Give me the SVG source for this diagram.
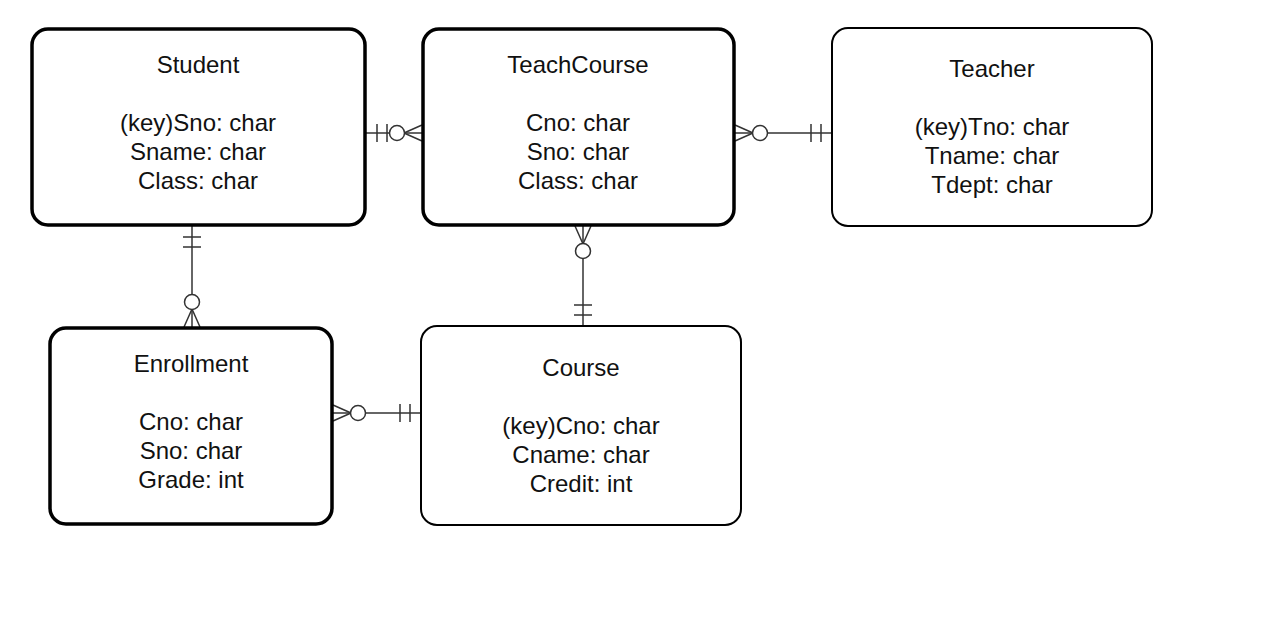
<svg xmlns="http://www.w3.org/2000/svg" width="1264" height="631" viewBox="0 0 1264 631">
<style>
.box{fill:#fff;stroke:#000}
.thick{stroke-width:3.5}
.thin{stroke-width:2}
.t{font-family:"Liberation Sans",Arial,sans-serif;font-size:24px;fill:#111;text-anchor:middle}
.c{stroke:#333;stroke-width:1.5;fill:none}
</style>
<defs>
<marker id="one" markerUnits="userSpaceOnUse" orient="auto" markerWidth="60" markerHeight="60" refX="0" refY="0" viewBox="-30 -30 60 60" overflow="visible">
<path d="M11,-9 V9 M21,-9 V9" stroke="#333" stroke-width="1.5" fill="none"/>
</marker>
<marker id="zeroMany" markerUnits="userSpaceOnUse" orient="auto" markerWidth="60" markerHeight="60" refX="0" refY="0" viewBox="-30 -30 60 60" overflow="visible">
<path d="M-18,0 L0,-8 M-18,0 L0,8" stroke="#333" stroke-width="1.5" fill="none"/>
<circle cx="-25" cy="0" r="7.5" fill="#fff" stroke="#333" stroke-width="1.5"/>
</marker>
</defs>
<rect width="1264" height="631" fill="#fff"/>
<g id="connectors">
<line class="c" x1="366" y1="133" x2="422" y2="133" marker-start="url(#one)" marker-end="url(#zeroMany)"/>
<line class="c" x1="832" y1="133" x2="735" y2="133" marker-start="url(#one)" marker-end="url(#zeroMany)"/>
<line class="c" x1="192" y1="226" x2="192" y2="327" marker-start="url(#one)" marker-end="url(#zeroMany)"/>
<line class="c" x1="583" y1="326" x2="583" y2="226" marker-start="url(#one)" marker-end="url(#zeroMany)"/>
<line class="c" x1="421" y1="413" x2="333" y2="413" marker-start="url(#one)" marker-end="url(#zeroMany)"/>
</g>
<g id="student">
<rect class="box thick" x="32" y="29" width="333" height="196" rx="16"/>
<text class="t" x="198" y="73">Student</text>
<text class="t" x="198" y="131">(key)Sno: char</text>
<text class="t" x="198" y="160">Sname: char</text>
<text class="t" x="198" y="189">Class: char</text>
</g>
<g id="teachcourse">
<rect class="box thick" x="423" y="29" width="311" height="196" rx="16"/>
<text class="t" x="578" y="73">TeachCourse</text>
<text class="t" x="578" y="131">Cno: char</text>
<text class="t" x="578" y="160">Sno: char</text>
<text class="t" x="578" y="189">Class: char</text>
</g>
<g id="teacher">
<rect class="box thin" x="832" y="28" width="320" height="198" rx="16"/>
<text class="t" x="992" y="77">Teacher</text>
<text class="t" x="992" y="135">(key)Tno: char</text>
<text class="t" x="992" y="164">Tname: char</text>
<text class="t" x="992" y="193">Tdept: char</text>
</g>
<g id="enrollment">
<rect class="box thick" x="50" y="328" width="282" height="196" rx="16"/>
<text class="t" x="191" y="372">Enrollment</text>
<text class="t" x="191" y="430">Cno: char</text>
<text class="t" x="191" y="459">Sno: char</text>
<text class="t" x="191" y="488">Grade: int</text>
</g>
<g id="course">
<rect class="box thin" x="421" y="326" width="320" height="199" rx="16"/>
<text class="t" x="581" y="376">Course</text>
<text class="t" x="581" y="434">(key)Cno: char</text>
<text class="t" x="581" y="463">Cname: char</text>
<text class="t" x="581" y="492">Credit: int</text>
</g>
</svg>
